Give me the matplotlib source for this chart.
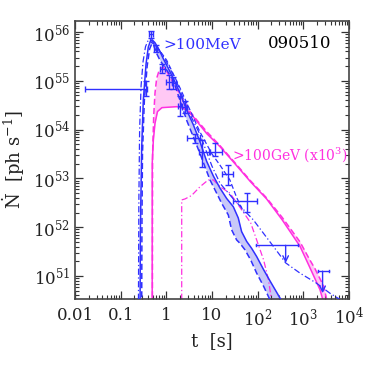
import numpy as np
import matplotlib
matplotlib.use("Agg")
import matplotlib.pyplot as plt
from matplotlib.ticker import FixedLocator, LogLocator, NullFormatter

plt.rcParams['font.family'] = ['DejaVu Serif']
plt.rcParams['mathtext.fontset'] = 'dejavuserif'

BLUE = '#3030ff'
PINK = '#ff30e0'
BLUE_FILL = '#c8c8f8'
PINK_FILL = '#ffc8f4'

# ---- model curves (t [s], log10 Ndot) ----
t_blue_solid = [0.265, 0.27, 0.288, 0.313, 0.36, 0.403, 0.45, 0.49, 0.565, 0.726, 0.86, 1.02, 1.42, 1.99,
                2.79, 3.9, 5.46, 7.64, 10.7, 15.0, 20.9, 29.3, 37.6, 44.5, 57.4, 73.5, 95, 135, 189, 267, 340, 400]
logN_blue_solid = [50.0, 51.9, 53.6, 54.6, 55.35, 55.69, 55.82, 55.84, 55.78, 55.6, 55.45, 55.32, 55.05, 54.75,
                   54.4, 54.1, 53.75, 53.35, 53.05, 52.8, 52.59, 52.42, 52.19, 51.91, 51.71, 51.57, 51.40, 51.13,
                   50.89, 50.65, 50.48, 50.35]

t_blue_dash = [0.288, 0.292, 0.30, 0.33, 0.38, 0.43, 0.48, 0.52, 0.614, 0.726, 1.02, 1.42, 1.99, 2.79, 3.9,
               5.46, 7.0, 9.04, 12.6, 16.3, 22.8, 26.8, 34.6, 41, 52.5, 70.3, 95, 135, 172, 200, 230]
logN_blue_dash = [50.0, 52.0, 53.5, 54.6, 55.3, 55.65, 55.76, 55.74, 55.56, 55.42, 55.22, 55.01, 54.6, 54.19,
                  53.85, 53.51, 53.24, 52.97, 52.70, 52.49, 52.25, 51.95, 51.74, 51.67, 51.54, 51.33, 51.06,
                  50.79, 50.58, 50.45, 50.3]

t_blue_dash2 = [0.45, 0.6, 1.02, 2.0, 3.3, 5.46, 10.0, 15.0, 24.6, 35.0, 50.0]
logN_blue_dash2 = [55.8, 55.72, 55.42, 54.85, 54.4, 53.95, 53.5, 53.27, 52.97, 52.6, 52.3]

t_blue_dashdot = [0.244, 0.25, 0.26, 0.28, 0.31, 0.35, 0.40, 0.44, 0.5, 0.73, 1.02, 1.68, 2.79, 5.46, 10.0,
                  15.0, 29.3, 80.4, 220, 410, 845, 1900, 3800, 6350, 9000]
logN_blue_dashdot = [50.0, 52.5, 54.0, 54.9, 55.4, 55.7, 55.83, 55.85, 55.8, 55.6, 55.38, 54.98, 54.45, 53.9,
                     53.25, 52.9, 52.58, 52.15, 51.61, 51.27, 51.06, 50.86, 50.65, 50.52, 50.4]

t_pink_solid = [0.49, 0.491, 0.52, 0.565, 0.64, 0.8, 1.68, 2.17, 2.79, 3.9, 7.64, 15.0, 29.3, 70.0, 157, 345,
                845, 1350, 2317, 2800, 3300]
logN_pink_solid = [50.0, 53.31, 53.79, 54.13, 54.37, 54.45, 54.47, 54.45, 54.40, 54.26, 53.92, 53.65, 53.34,
                   52.93, 52.58, 52.15, 51.61, 51.2, 50.72, 50.45, 50.2]

t_pink_dash = [0.495, 0.50, 0.53, 0.565, 0.614, 0.70, 0.82, 0.94, 1.2, 1.68, 2.36, 3.3, 4.62, 7.64, 15.0, 29.3,
               70.0, 157, 345, 845, 1350, 1800, 2800, 3250, 3700]
logN_pink_dash = [50.0, 53.5, 54.3, 54.75, 55.05, 55.22, 55.28, 55.25, 55.08, 54.84, 54.6, 54.37, 54.2, 53.96,
                  53.67, 53.36, 52.95, 52.6, 52.2, 51.7, 51.35, 51.15, 50.79, 50.52, 50.2]

t_pink_dashdot = [2.17, 2.171, 2.57, 3.57, 5.46, 8.3, 10.7, 15.0, 24.6, 44.5, 70.3, 95, 135, 172, 200, 220]
logN_pink_dashdot = [50.0, 52.56, 52.58, 52.65, 52.83, 52.97, 52.97, 52.83, 52.7, 52.36, 52.09, 51.74, 51.33,
                     50.93, 50.52, 50.3]

# ---- LAT data points ----
pt_t = [0.36, 0.454, 0.594, 0.82, 1.16, 1.42, 2.0, 2.5, 4.25, 5.94, 11.6, 22.8, 57.4]
pt_tlo = [0.0165, 0.41, 0.55, 0.73, 1.0, 1.3, 1.8, 2.2, 2.9, 5.3, 8.7, 16.3, 29.0]
pt_thi = [0.38, 0.50, 0.64, 0.95, 1.3, 1.6, 2.2, 2.9, 5.5, 9.0, 16.3, 29.3, 95.0]
pt_logN = [54.84, 55.95, 55.66, 55.25, 54.98, 54.96, 54.48, 54.46, 53.82, 53.55, 53.55, 53.10, 52.53]
pt_logNlo = [54.69, 55.88, 55.59, 55.15, 54.84, 54.84, 54.28, 54.34, 53.72, 53.24, 53.45, 52.87, 52.32]
pt_logNhi = [55.0, 56.02, 55.73, 55.35, 55.12, 55.08, 54.68, 54.58, 53.92, 53.79, 53.72, 53.28, 52.70]

ul_t = [410, 2640]
ul_tlo = [92, 2140]
ul_thi = [752, 3700]
ul_logN = [51.63, 51.10]
ul_logNend = [51.27, 50.65]

xtick_vals = [0.01, 0.1, 1, 10, 100, 1000, 10000]
xtick_labels = ['0.01', '0.1', '1', '10', r'$10^2$', r'$10^3$', r'$10^4$']
ytick_vals = [1e51, 1e52, 1e53, 1e54, 1e55, 1e56]
ytick_labels = [r'$10^{51}$', r'$10^{52}$', r'$10^{53}$', r'$10^{54}$', r'$10^{55}$', r'$10^{56}$']

fig = plt.figure(figsize=(3.74, 3.74), dpi=100)
ax = fig.add_axes([75 / 374, 1 - 299 / 374, 274 / 374, 278 / 374])
ax.set_xscale('log')
ax.set_yscale('log')
ax.set_xlim(0.01, 1e4)
ax.set_ylim(10 ** 50.53, 10 ** 56.225)


def curve(t, logN):
    return np.asarray(t, float), 10 ** np.asarray(logN, float)


def on_grid(t, logN, grid):
    lt = np.log10(np.asarray(t, float))
    return 10 ** np.interp(np.log10(grid), lt, logN, left=49.0, right=49.0)


# shaded bands
g = np.logspace(np.log10(0.3), np.log10(400), 800)
bs = on_grid(t_blue_solid, logN_blue_solid, g)
bd = on_grid(t_blue_dash, logN_blue_dash, g)
ax.fill_between(g, bd, bs, where=(bs > bd) & (g > 0.44), color=BLUE_FILL, lw=0, interpolate=True, zorder=1)

g2 = np.logspace(np.log10(0.49), np.log10(4000), 1200)
ps = on_grid(t_pink_solid, logN_pink_solid, g2)
pdd = on_grid(t_pink_dash, logN_pink_dash, g2)
ax.fill_between(g2, ps, pdd, where=pdd > ps, color=PINK_FILL, lw=0, interpolate=True, zorder=1)

lw = 1.1
ax.plot(*curve(t_pink_solid, logN_pink_solid), color=PINK, lw=lw, zorder=2)
ax.plot(*curve(t_pink_dash, logN_pink_dash), color=PINK, lw=lw, ls=(0, (4, 2)), zorder=2)
ax.plot(*curve(t_pink_dashdot, logN_pink_dashdot), color=PINK, lw=0.9, ls=(0, (5, 2, 1, 2)), zorder=2)

ax.plot(*curve(t_blue_solid, logN_blue_solid), color=BLUE, lw=lw, zorder=3)
ax.plot(*curve(t_blue_dash, logN_blue_dash), color=BLUE, lw=lw, ls=(0, (4, 2)), zorder=3)
ax.plot(*curve(t_blue_dash2, logN_blue_dash2), color=BLUE, lw=0.9, ls=(0, (4, 2)), zorder=3)
ax.plot(*curve(t_blue_dashdot, logN_blue_dashdot), color=BLUE, lw=0.9, ls=(0, (5, 2, 1, 2)), zorder=3)

# data points
pt_t_a = np.array(pt_t)
pt_N = 10 ** np.array(pt_logN)
xerr = [pt_t_a - np.array(pt_tlo), np.array(pt_thi) - pt_t_a]
yerr = [pt_N - 10 ** np.array(pt_logNlo), 10 ** np.array(pt_logNhi) - pt_N]
ax.errorbar(pt_t_a, pt_N, xerr=xerr, yerr=yerr, fmt='none', ecolor=BLUE, elinewidth=1.0,
            capsize=2, capthick=1.0, zorder=4)

for t, tlo, thi, ln, le in zip(ul_t, ul_tlo, ul_thi, ul_logN, ul_logNend):
    ax.plot([tlo, thi], [10 ** ln, 10 ** ln], color=BLUE, lw=1.0, zorder=4)
    ax.plot([tlo, tlo], [10 ** (ln - 0.02), 10 ** (ln + 0.02)], color=BLUE, lw=1.0, zorder=4)
    ax.plot([thi, thi], [10 ** (ln - 0.02), 10 ** (ln + 0.02)], color=BLUE, lw=1.0, zorder=4)
    ax.annotate('', xy=(t, 10 ** le), xytext=(t, 10 ** ln),
                arrowprops=dict(arrowstyle='->', color=BLUE, lw=1.0, shrinkA=0, shrinkB=0,
                                mutation_scale=10), zorder=4)

# text
ax.text(0.86, 10 ** 55.73, '>100MeV', color=BLUE, fontsize=11, va='center', ha='left')
ax.text(27, 10 ** 53.48, r'>100GeV (x10$^3$)', color=PINK, fontsize=10, va='center', ha='left')
ax.text(4200, 10 ** 55.76, '090510', color='black', fontsize=12, va='center', ha='right')

# ticks
ax.xaxis.set_major_locator(FixedLocator(xtick_vals))
ax.set_xticklabels(xtick_labels)
ax.yaxis.set_major_locator(FixedLocator(ytick_vals))
ax.set_yticklabels(ytick_labels)
ax.xaxis.set_minor_locator(LogLocator(base=10, subs=np.arange(2, 10), numticks=20))
ax.yaxis.set_minor_locator(LogLocator(base=10, subs=np.arange(2, 10), numticks=20))
ax.xaxis.set_minor_formatter(NullFormatter())
ax.yaxis.set_minor_formatter(NullFormatter())
ax.tick_params(which='both', direction='in', top=True, right=True, colors='#333333', labelcolor='#222222',
               labelsize=12)
ax.tick_params(which='major', length=6, width=0.9)
ax.tick_params(which='minor', length=3, width=0.8)
ax.tick_params(axis='x', pad=6)
for s in ax.spines.values():
    s.set_linewidth(1.2)
    s.set_color('#444444')

ax.set_xlabel('t  [s]', fontsize=13, labelpad=2, color='#222222')
ax.set_ylabel(r'$\dot{\rm N}$  [ph s$^{-1}$]', fontsize=13, labelpad=4, color='#222222')

fig.savefig('out.png', dpi=100)
